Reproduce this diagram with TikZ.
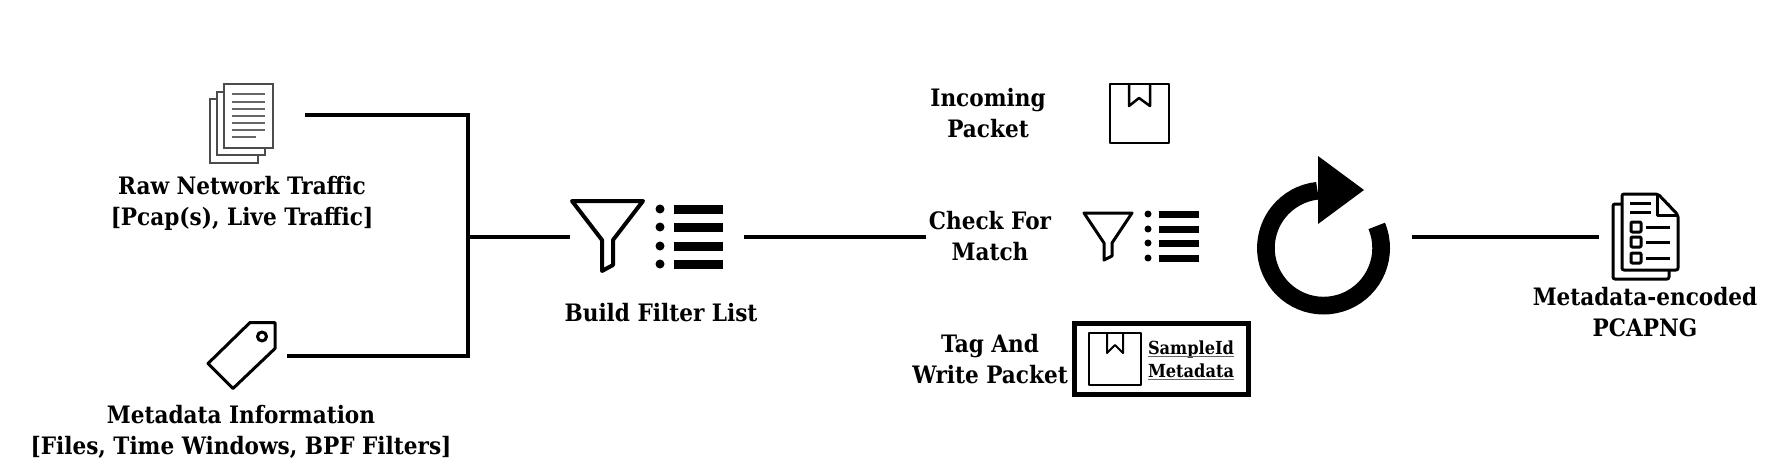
\documentclass[tikz,border=0pt]{standalone}
\usepackage{fontspec}
\newfontfamily\lblfont{DejaVu Serif Condensed Bold}
\tikzset{
	lbl/.style={inner sep=0pt, align=center, anchor=base, font=\lblfont\fontsize{24}{31}\selectfont},
	smalllbl/.style={inner sep=0pt, align=center, anchor=base, font=\lblfont\fontsize{18}{23}\selectfont},
	wire/.style={line width=4pt, black},
	icon/.style={line width=3pt, black, line join=round},
	thin icon/.style={line width=1.6pt, black!70, fill=white},
	bar/.style={fill=black},
}
\begin{document}
\begin{tikzpicture}[x=1pt, y=-1pt]
	\useasboundingbox (0, 0) rectangle (1780, 474);

	% Anschlusspunkte
	\coordinate (trafficout) at (305, 115);
	\coordinate (metaout) at (287, 355.5);
	\coordinate (junction) at (468, 236.5);
	\coordinate (filterin) at (570, 236.5);
	\coordinate (filterout) at (744, 236.5);
	\coordinate (checkin) at (926, 236.5);
	\coordinate (loopout) at (1412, 236.5);
	\coordinate (pcapin) at (1599, 236.5);

	% Papierstapel
	\draw[thin icon] (210, 99) rectangle (258, 163);
	\draw[thin icon] (217, 92) rectangle (265, 155);
	\draw[thin icon] (224, 84) rectangle (273, 148);
	\foreach \y in {94, 102, 109, 116, 123, 130}
		\draw[line width=1.4pt, black!60] (232, \y) -- (265, \y);
	\draw[line width=1.4pt, black!60] (232, 137) -- (256, 137);
	\node[lbl] (traffic) at (242, 225) {Raw Network Traffic\\{[}Pcap(s), Live Traffic{]}};

	% Etikett
	\draw[icon] (250, 322.5) -- (275, 322.5) -- (275, 348.5) -- (233, 388.5) -- (208, 363.5) -- cycle;
	\draw[icon] (262, 336.5) circle (4.5pt);
	\node[lbl] (meta) at (241, 454) {Metadata Information\\{[}Files, Time Windows, BPF Filters{]}};

	% Verbindungen links
	\draw[wire] (trafficout) -| (junction);
	\draw[wire] (metaout) -| (junction);
	\draw[wire] (junction) -- (filterin);
	\draw[wire] (filterout) -- (checkin);

	% Filter gross
	\draw[icon, line width=4pt] (572, 201) -- (643, 201) -- (613, 240) -- (613, 265) -- (602, 271) -- (602, 240) -- cycle;
	\foreach \y in {209, 227, 246, 264} {
		\fill (660, \y) circle (4.5pt);
		\fill[bar] (674, \y - 4.5) rectangle (723, \y + 4.5);
	}
	\node[lbl] (build) at (661, 321) {Build Filter List};

	% Paket
	\node[lbl] (incoming) at (988, 137) {Incoming\\Packet};
	\draw[icon, line width=2.5pt] (1110, 84) rectangle (1169, 143);
	\draw[icon, line width=2.5pt] (1129, 84) -- (1129, 106) -- (1139, 98) -- (1150, 106) -- (1150, 84);

	% Filter klein
	\node[lbl] (check) at (990, 260) {Check For\\Match};
	\draw[icon] (1084, 213) -- (1132, 213) -- (1112, 243) -- (1112, 256) -- (1104, 260) -- (1104, 243) -- cycle;
	\foreach \y in {214, 229, 243, 258} {
		\fill (1148, \y) circle (3.5pt);
		\fill[bar] (1159, \y - 3.5) rectangle (1199, \y + 3.5);
	}

	% Paket mit Metadaten
	\node[lbl] (tag) at (990, 383) {Tag And\\Write Packet};
	\draw[line width=5pt, black] (1074.5, 323.5) rectangle (1248.5, 394.5);
	\draw[icon, line width=2pt] (1089, 333) rectangle (1141, 385);
	\draw[icon, line width=2pt] (1107, 333) -- (1107, 353) -- (1115, 345) -- (1123, 353) -- (1123, 333);
	\node[smalllbl] (sample) at (1191, 354) {SampleId};
	\node[smalllbl] (metadata) at (1191, 377) {Metadata};
	\draw[line width=1.5pt, black!60] ([yshift=-2.5pt]sample.base west) -- ([yshift=-2.5pt]sample.base east);
	\draw[line width=1.5pt, black!60] ([yshift=-2.5pt]metadata.base west) -- ([yshift=-2.5pt]metadata.base east);

	% Kreispfeil
	\draw[line width=17.7pt, black] (1376.7, 225.9) arc[start angle=22.6, end angle=-264, radius=57.6pt];
	\fill (1318, 156) -- (1364, 190) -- (1318, 224) -- cycle;

	% Ausgabe
	\draw[wire] (loopout) -- (pcapin);
	\draw[icon, rounded corners=2pt, fill=white] (1613, 204) -- (1669, 204) -- (1669, 279) -- (1613, 279) -- cycle;
	\draw[icon, rounded corners=2pt, fill=white] (1622, 194) -- (1658, 194) -- (1678, 215) -- (1678, 270) -- (1622, 270) -- cycle;
	\draw[icon] (1657, 194) -- (1657, 215) -- (1678, 215);
	\foreach \y in {203, 212}
		\draw[icon] (1630, \y) -- (1651, \y);
	\foreach \y in {227, 242, 258} {
		\draw[icon, rounded corners=1pt] (1631, \y - 5) rectangle (1641, \y + 5);
		\draw[icon] (1646, \y) -- (1670, \y);
	}
	\node[lbl] (pcap) at (1645, 336) {Metadata-encoded\\PCAPNG};
\end{tikzpicture}
\end{document}
